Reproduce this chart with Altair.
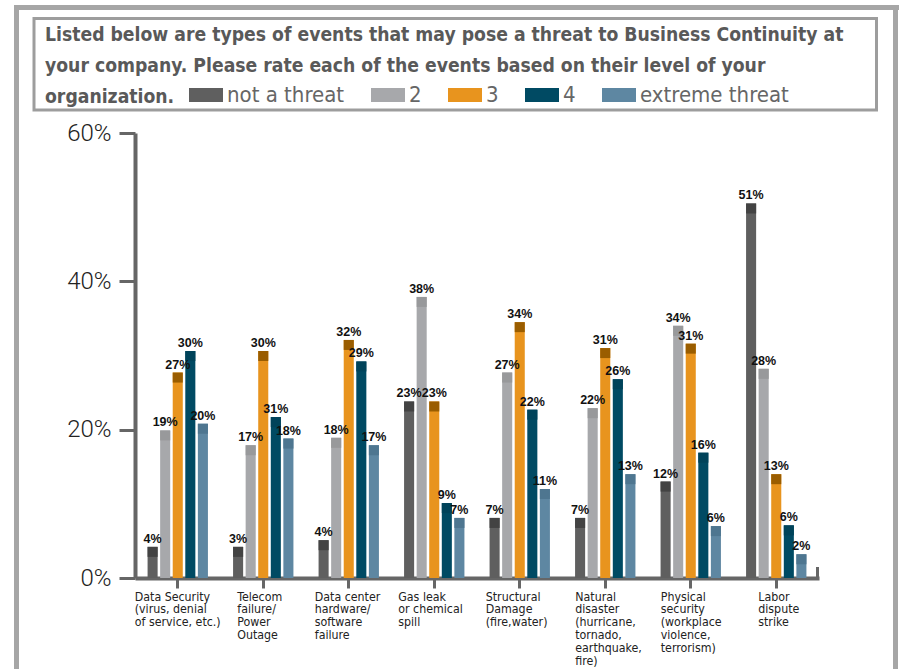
import altair as alt
import pandas as pd

categories = [
    "Data Security|(virus, denial|of service, etc.)",
    "Telecom|failure/|Power|Outage",
    "Data center|hardware/|software|failure",
    "Gas leak|or chemical|spill",
    "Structural|Damage|(fire,water)",
    "Natural|disaster|(hurricane,|tornado,|earthquake,|fire)",
    "Physical|security|(workplace|violence,|terrorism)",
    "Labor|dispute|strike",
]
series = ["not a threat", "2", "3", "4", "extreme threat"]

# bar heights (percent) as drawn in the picture
h_not = [4.2, 4.2, 5.1, 23.8, 8.1, 8.1, 13.0, 50.5]
h_2 = [19.9, 17.9, 18.9, 37.9, 27.7, 22.9, 34.0, 28.2]
h_3 = [27.7, 30.6, 32.1, 23.8, 34.5, 31.0, 31.6, 14.0]
h_4 = [30.6, 21.7, 29.2, 10.1, 22.7, 26.8, 16.9, 7.1]
h_5 = [20.8, 18.8, 17.9, 8.1, 12.0, 14.0, 7.0, 3.2]

# printed value labels
l_not = ["4%", "3%", "4%", "23%", "7%", "7%", "12%", "51%"]
l_2 = ["19%", "17%", "18%", "38%", "27%", "22%", "34%", "28%"]
l_3 = ["27%", "30%", "32%", "23%", "34%", "31%", "31%", "13%"]
l_4 = ["30%", "31%", "29%", "9%", "22%", "26%", "16%", "6%"]
l_5 = ["20%", "18%", "17%", "7%", "11%", "13%", "6%", "2%"]

title_lines = [
    "Listed below are types of events that may pose a threat to Business Continuity at",
    "your company. Please rate each of the events based on their level of your",
    "organization.",
]

# styles
COND = "DejaVu Sans Condensed"
body_colors = ["#5f5f5f", "#a7a8ab", "#e8941e", "#004a63", "#5e87a2"]
cap_colors = ["#434343", "#98999b", "#9a5d00", "#00435a", "#4e7690"]
label_nudge = [-43, -26, -34, -36, -34, -30, -30, -18]

heights = [h_not, h_2, h_3, h_4, h_5]
labels = [l_not, l_2, l_3, l_4, l_5]
rows = []
for j, s in enumerate(series):
    for i, c in enumerate(categories):
        rows.append({"category": c, "series": s, "value": heights[j][i], "label": labels[j][i]})
df = pd.DataFrame(rows)

W, H = 684, 445
OX, OY = 135, 133  # plot origin in the page

x_enc = alt.X(
    "category:N",
    sort=categories,
    scale=alt.Scale(paddingInner=0, paddingOuter=0),
    axis=alt.Axis(
        title=None,
        labelAngle=0,
        labelExpr="split(datum.label, '|')",
        labelAlign="left",
        labelBaseline="top",
        labelOffset={
            "condition": [
                {"test": f"datum.value === '{c}'", "value": n}
                for c, n in zip(categories, label_nudge)
            ],
            "value": -34,
        },
        labelPadding=2,
        labelFont=COND,
        labelFontSize=12.3,
        labelLineHeight=12.8,
        labelColor="#222222",
        labelOverlap=False,
        labelFlush=False,
        labelLimit=200,
        domainColor="#666666",
        domainWidth=4,
        tickColor="#666666",
        tickWidth=3,
        tickSize=10,
        grid=False,
    ),
)
xo_enc = alt.XOffset(
    "series:N", sort=series, scale=alt.Scale(paddingInner=0.2, paddingOuter=1.0)
)
y_enc = alt.Y(
    "value:Q",
    scale=alt.Scale(domain=[0, 60], nice=False, zero=True),
    axis=alt.Axis(
        title=None,
        values=[0, 20, 40, 60],
        labelExpr="datum.value + '%'",
        labelFont="Roboto",
        labelFontWeight=300,
        labelFontSize=24,
        labelColor="#222222",
        labelPadding=8,
        domainColor="#666666",
        domainWidth=4,
        tickColor="#666666",
        tickWidth=3,
        tickSize=16,
        grid=False,
    ),
)

base = alt.Chart(df)

bars = base.mark_bar(opacity=1).encode(
    x=x_enc,
    xOffset=xo_enc,
    y=y_enc,
    color=alt.Color(
        "series:N",
        sort=series,
        scale=alt.Scale(domain=series, range=body_colors),
        legend=alt.Legend(
            title=None,
            orient="none",
            legendX=54,
            legendY=-55,
            direction="horizontal",
            columns=5,
            symbolType="M-1,-0.41L1,-0.41L1,0.41L-1,0.41Z",
            symbolSize=1156,
            symbolStrokeWidth=0,
            symbolOpacity=1,
            labelFont=COND,
            labelFontSize=22,
            labelColor="#666666",
            labelOffset=4,
            columnPadding=26,
            labelLimit=300,
        ),
    ),
)

caps = base.transform_calculate(cap_lo="datum.value - 1.35").mark_bar(opacity=1).encode(
    x=alt.X("category:N", sort=categories),
    xOffset=alt.XOffset("series:N", sort=series),
    y=alt.Y("cap_lo:Q"),
    y2="value:Q",
    fill=alt.Fill(
        "series:N", sort=series, scale=alt.Scale(domain=series, range=cap_colors), legend=None
    ),
)

texts = base.mark_text(
    baseline="bottom", dy=-1, font="Liberation Sans", fontWeight="bold", fontSize=12.5, color="#111111"
).encode(
    x=alt.X("category:N", sort=categories),
    xOffset=alt.XOffset("series:N", sort=series),
    y=alt.Y("value:Q"),
    text="label:N",
)

one = pd.DataFrame({"k": [0]})
frame_color = "#a6a6a6"
outer_left = alt.Chart(one).mark_rule(color=frame_color, strokeWidth=5).encode(
    x=alt.value(16.5 - OX), y=alt.value(5 - OY), y2=alt.value(669 - OY)
)
outer_top = alt.Chart(one).mark_rule(color=frame_color, strokeWidth=5).encode(
    x=alt.value(14 - OX), x2=alt.value(899 - OX), y=alt.value(7.5 - OY)
)
outer_right = alt.Chart(one).mark_rule(color=frame_color, strokeWidth=5).encode(
    x=alt.value(895.5 - OX), y=alt.value(5 - OY), y2=alt.value(669 - OY)
)
title_box = alt.Chart(one).mark_rect(fill="white", stroke="#9d9d9d", strokeWidth=3).encode(
    x=alt.value(34 - OX), x2=alt.value(876.5 - OX), y=alt.value(18.5 - OY), y2=alt.value(110 - OY)
)
title_text = alt.Chart(one).mark_text(
    text=title_lines,
    align="left",
    baseline="alphabetic",
    lineHeight=31,
    font=COND,
    fontWeight="bold",
    fontSize=19.2,
    color="#595959",
).encode(x=alt.value(45 - OX), y=alt.value(41 - OY))

end_tick = alt.Chart(one).mark_rule(color="#666666", strokeWidth=3).encode(
    x=alt.value(W - 1.5), y=alt.value(H - 11), y2=alt.value(H)
)

chart = (
    alt.layer(outer_left, outer_top, outer_right, title_box, title_text, bars, caps, texts, end_tick)
    .resolve_scale(color="independent", fill="independent")
    .properties(
        width=W,
        height=H,
        autosize=alt.AutoSizeParams(type="none"),
        padding={"left": OX, "top": OY, "right": 899 - OX - W, "bottom": 669 - OY - H},
        background="white",
    )
    .configure_view(stroke=None)
)

chart.save("out.html", embed_options={"renderer": "svg", "actions": False})
